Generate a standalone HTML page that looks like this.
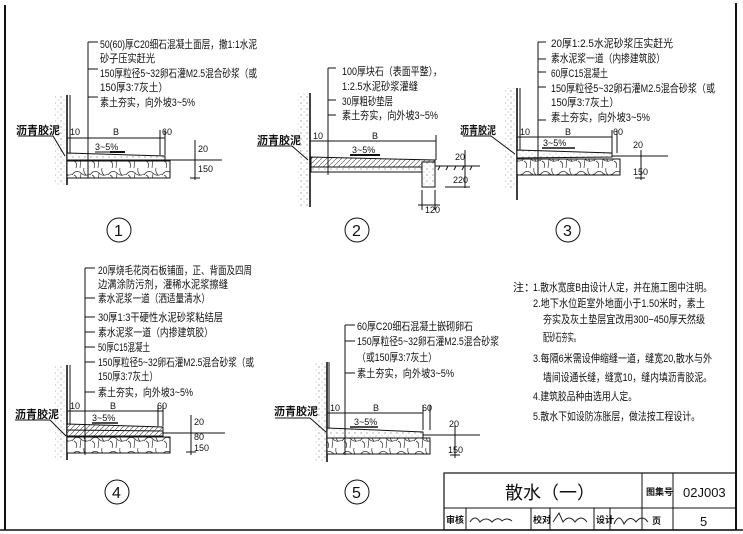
<!DOCTYPE html>
<html><head><meta charset="utf-8"><style>
html,body{margin:0;padding:0;background:#fff;}
svg{display:block;}
text{font-family:"Liberation Sans","Noto Sans CJK SC",sans-serif;fill:#111;}
.t{font-size:11px;}
.s{font-size:9px;}
</style></head><body>
<svg width="743" height="534" viewBox="0 0 743 534" xmlns="http://www.w3.org/2000/svg">
<defs>
<pattern id="dots" width="6" height="6" patternUnits="userSpaceOnUse">
<rect width="6" height="6" fill="#fff"/><circle cx="1" cy="1" r="0.6" fill="#777"/><circle cx="4" cy="4" r="0.5" fill="#999"/>
</pattern>
<pattern id="stone" width="18" height="14" patternUnits="userSpaceOnUse">
<rect width="18" height="14" fill="#fff"/><path d="M0 7 Q4 1 9 5 Q13 9 18 6 M4 14 Q6 9 2 7 M12 0 Q11 4 14 7 M9 5 L8 14" stroke="#333" stroke-width="0.7" fill="none"/>
</pattern>
<pattern id="hatch" width="5" height="5" patternUnits="userSpaceOnUse">
<rect width="5" height="5" fill="#fff"/><path d="M0 5 L5 0" stroke="#444" stroke-width="0.6"/>
</pattern>
</defs>
<g stroke="#111" fill="none">
<line x1="5" y1="5" x2="5" y2="530" stroke-width="2"/>
<line x1="736" y1="3" x2="736" y2="530" stroke-width="2"/>
<line x1="0" y1="530" x2="743" y2="530" stroke-width="1.5"/>
<rect x="444" y="473" width="292" height="57" stroke-width="1.2"/>
<line x1="444" y1="508" x2="736" y2="508"/>
<line x1="642" y1="473" x2="642" y2="530"/>
<line x1="673" y1="473" x2="673" y2="530"/>
<line x1="466" y1="508" x2="466" y2="530"/><line x1="531" y1="508" x2="531" y2="530"/>
<line x1="550" y1="508" x2="550" y2="530"/><line x1="594" y1="508" x2="594" y2="530"/>
<line x1="610" y1="508" x2="610" y2="530"/>
</g>
<text x="505" y="499" style="font-size:18px">散水（一）</text>
<text x="646" y="495" style="font-size:9px;font-weight:bold">图集号</text>
<text x="683" y="497" style="font-size:13px">02J003</text>
<text x="446" y="523" style="font-size:9px;font-weight:bold">审核</text>
<text x="533" y="523" style="font-size:9px;font-weight:bold">校对</text>
<text x="596" y="523" style="font-size:9px;font-weight:bold">设计</text>
<text x="652" y="524" style="font-size:9px;font-weight:bold">页</text>
<text x="700" y="526" style="font-size:13px">5</text>
<path d="M470 522 q5 -8 10 0 q6 -6 12 0 q6 -6 10 -1 q5 -4 10 0 M553 522 l6 -9 l4 9 q6 -8 12 0 q6 -8 12 0 M614 524 q5 -12 10 0 q6 -10 12 -2 q6 -8 12 0" stroke="#222" fill="none" stroke-width="1"/>

<!-- ===== Detail 1 ===== -->
<g stroke="#111" fill="none" stroke-width="1">
<rect x="55" y="95" width="12" height="90" fill="url(#dots)" stroke="none"/>
<line x1="67" y1="95" x2="67" y2="185" stroke-width="1.6"/>
<line x1="70" y1="95" x2="70" y2="154"/>
<polygon points="67,153 165,156 165,160 67,160" fill="url(#dots)"/>
<rect x="67" y="161" width="103" height="17" fill="url(#stone)"/>
<line x1="165" y1="160" x2="222" y2="160"/>
<line x1="88" y1="42" x2="88" y2="178"/>
<line x1="88" y1="42" x2="98" y2="42"/><line x1="88" y1="69" x2="98" y2="69"/><line x1="88" y1="97" x2="98" y2="97"/>
<line x1="67" y1="138" x2="165" y2="138"/><line x1="160" y1="130" x2="160" y2="155"/><line x1="165" y1="130" x2="165" y2="155"/>
<line x1="195" y1="140" x2="195" y2="180"/><line x1="190" y1="160" x2="200" y2="160"/><line x1="190" y1="178" x2="200" y2="178"/>
<line x1="95" y1="152" x2="125" y2="152"/><path d="M110 152 l15 0" stroke-width="2"/>
<path d="M18 136 l35 0 l12 20"/>
<circle cx="119" cy="230" r="12"/>
</g>
<text class="t" x="100" y="48" textLength="157" lengthAdjust="spacingAndGlyphs">50(60)厚C20细石混凝土面层，撒1:1水泥</text>
<text class="t" x="100" y="62" textLength="55" lengthAdjust="spacingAndGlyphs">砂子压实赶光</text>
<text class="t" x="100" y="77" textLength="157" lengthAdjust="spacingAndGlyphs">150厚粒径5~32卵石灌M2.5混合砂浆（或</text>
<text class="t" x="100" y="91" textLength="68" lengthAdjust="spacingAndGlyphs">150厚3:7灰土）</text>
<text class="t" x="100" y="106" textLength="95" lengthAdjust="spacingAndGlyphs">素土夯实，向外坡3~5%</text>
<text class="s" x="70" y="135">10</text><text class="s" x="113" y="135">B</text><text class="s" x="162" y="135">60</text>
<text class="s" x="95" y="150">3~5%</text>
<text class="s" x="198" y="152">20</text><text class="s" x="198" y="172">150</text>
<text class="t" x="16" y="134" style="font-weight:bold" textLength="44" lengthAdjust="spacingAndGlyphs">沥青胶泥</text>
<text x="114" y="236" style="font-size:16px">1</text>

<!-- ===== Detail 2 ===== -->
<g stroke="#111" fill="none" stroke-width="1">
<rect x="298" y="93" width="12" height="114" fill="url(#dots)" stroke="none"/>
<line x1="310" y1="93" x2="310" y2="207" stroke-width="1.6"/>
<polygon points="311,157 435,160 435,167 311,167" fill="url(#hatch)"/>
<rect x="311" y="167" width="111" height="5" fill="url(#dots)"/>
<rect x="422" y="162" width="13" height="25" fill="url(#dots)"/>
<line x1="435" y1="166" x2="480" y2="166"/>
<path d="M440 166 l-2 4 M448 166 l-2 4 M456 166 l-2 4 M464 166 l-2 4 M472 166 l-2 4"/>
<line x1="328" y1="68" x2="328" y2="175"/>
<line x1="328" y1="68" x2="336" y2="68"/><line x1="328" y1="100" x2="336" y2="100"/><line x1="328" y1="115" x2="336" y2="115"/>
<line x1="310" y1="141" x2="436" y2="141"/><line x1="436" y1="135" x2="436" y2="160"/>
<line x1="465" y1="150" x2="465" y2="188"/><line x1="445" y1="187" x2="470" y2="187"/>
<line x1="422" y1="190" x2="422" y2="210"/><line x1="435" y1="190" x2="435" y2="210"/><line x1="418" y1="205" x2="440" y2="205"/>
<line x1="350" y1="155" x2="380" y2="155" stroke-width="2"/>
<path d="M257 146 l35 0 l16 14"/>
<circle cx="357" cy="230" r="12"/>
</g>
<text class="t" x="342" y="75" textLength="100" lengthAdjust="spacingAndGlyphs">100厚块石（表面平整），</text>
<text class="t" x="342" y="90" textLength="76" lengthAdjust="spacingAndGlyphs">1:2.5水泥砂浆灌缝</text>
<text class="t" x="342" y="105" textLength="51" lengthAdjust="spacingAndGlyphs">30厚粗砂垫层</text>
<text class="t" x="342" y="119" textLength="96" lengthAdjust="spacingAndGlyphs">素土夯实，向外坡3~5%</text>
<text class="s" x="313" y="139">10</text><text class="s" x="372" y="139">B</text>
<text class="s" x="352" y="153">3~5%</text>
<text class="s" x="455" y="160">20</text><text class="s" x="453" y="183">220</text><text class="s" x="425" y="213">120</text>
<text class="t" x="257" y="144" style="font-weight:bold" textLength="44" lengthAdjust="spacingAndGlyphs">沥青胶泥</text>
<text x="352" y="236" style="font-size:16px">2</text>

<!-- ===== Detail 3 ===== -->
<g stroke="#111" fill="none" stroke-width="1">
<rect x="505" y="88" width="12" height="100" fill="url(#dots)" stroke="none"/>
<line x1="517" y1="88" x2="517" y2="200" stroke-width="1.6"/>
<line x1="520" y1="88" x2="520" y2="150"/>
<polygon points="517,150 612,153 612,157 517,158" fill="url(#dots)"/>
<rect x="517" y="159" width="103" height="16" fill="url(#stone)"/>
<line x1="612" y1="156" x2="668" y2="156"/>
<line x1="538" y1="42" x2="538" y2="175"/>
<line x1="538" y1="42" x2="546" y2="42"/><line x1="538" y1="59" x2="546" y2="59"/><line x1="538" y1="72" x2="546" y2="72"/><line x1="538" y1="87" x2="546" y2="87"/><line x1="538" y1="120" x2="546" y2="120"/>
<line x1="517" y1="137" x2="612" y2="137"/><line x1="612" y1="130" x2="612" y2="153"/><line x1="617" y1="130" x2="617" y2="153"/>
<line x1="641" y1="150" x2="641" y2="180"/><line x1="635" y1="178" x2="645" y2="178"/>
<line x1="542" y1="148" x2="575" y2="148" stroke-width="1.5"/>
<path d="M463 136 l28 0 l24 18"/>
<circle cx="568" cy="230" r="12"/>
</g>
<text class="t" x="551" y="47" textLength="122" lengthAdjust="spacingAndGlyphs">20厚1:2.5水泥砂浆压实赶光</text>
<text class="t" x="551" y="62" textLength="114" lengthAdjust="spacingAndGlyphs">素水泥浆一道（内掺建筑胶）</text>
<text class="t" x="551" y="77" textLength="57" lengthAdjust="spacingAndGlyphs">60厚C15混凝土</text>
<text class="t" x="551" y="92" textLength="164" lengthAdjust="spacingAndGlyphs">150厚粒径5~32卵石灌M2.5混合砂浆（或</text>
<text class="t" x="551" y="106" textLength="68" lengthAdjust="spacingAndGlyphs">150厚3:7灰土）</text>
<text class="t" x="551" y="121" textLength="99" lengthAdjust="spacingAndGlyphs">素土夯实，向外坡3~5%</text>
<text class="s" x="520" y="135">10</text><text class="s" x="565" y="135">B</text><text class="s" x="613" y="135">60</text>
<text class="s" x="543" y="146">3~5%</text>
<text class="s" x="633" y="148">20</text><text class="s" x="633" y="175">150</text>
<text class="t" x="460" y="134" style="font-weight:bold" textLength="36" lengthAdjust="spacingAndGlyphs">沥青胶泥</text>
<text x="563" y="236" style="font-size:16px">3</text>

<!-- ===== Detail 4 ===== -->
<g stroke="#111" fill="none" stroke-width="1">
<rect x="55" y="365" width="12" height="95" fill="url(#dots)" stroke="none"/>
<line x1="67" y1="365" x2="67" y2="460" stroke-width="1.6"/>
<line x1="70" y1="365" x2="70" y2="425"/>
<polygon points="67,424 163,427 163,436 67,436" fill="url(#hatch)"/>
<line x1="67" y1="430" x2="163" y2="431"/>
<rect x="67" y="437" width="103" height="16" fill="url(#stone)"/>
<line x1="163" y1="433" x2="225" y2="433"/>
<line x1="85" y1="268" x2="85" y2="455"/>
<line x1="85" y1="268" x2="95" y2="268"/><line x1="85" y1="298" x2="95" y2="298"/><line x1="85" y1="317" x2="95" y2="317"/><line x1="85" y1="332" x2="95" y2="332"/><line x1="85" y1="347" x2="95" y2="347"/><line x1="85" y1="362" x2="95" y2="362"/><line x1="85" y1="392" x2="95" y2="392"/>
<line x1="67" y1="411" x2="163" y2="411"/><line x1="158" y1="405" x2="158" y2="426"/><line x1="163" y1="405" x2="163" y2="426"/>
<line x1="191" y1="415" x2="191" y2="455"/><line x1="186" y1="452" x2="196" y2="452"/>
<line x1="92" y1="423" x2="118" y2="423" stroke-width="1.5"/>
<path d="M15 420 l35 0 l16 16"/>
<circle cx="117" cy="492" r="12"/>
</g>
<text class="t" x="98" y="274" textLength="154" lengthAdjust="spacingAndGlyphs">20厚烧毛花岗石板铺面，正、背面及四周</text>
<text class="t" x="98" y="288" textLength="130" lengthAdjust="spacingAndGlyphs">边满涂防污剂，灌稀水泥浆擦缝</text>
<text class="t" x="98" y="302" textLength="112" lengthAdjust="spacingAndGlyphs">素水泥浆一道（洒适量清水）</text>
<text class="t" x="98" y="321" textLength="125" lengthAdjust="spacingAndGlyphs">30厚1:3干硬性水泥砂浆粘结层</text>
<text class="t" x="98" y="336" textLength="115" lengthAdjust="spacingAndGlyphs">素水泥浆一道（内掺建筑胶）</text>
<text class="t" x="98" y="351" textLength="52" lengthAdjust="spacingAndGlyphs">50厚C15混凝土</text>
<text class="t" x="98" y="366" textLength="156" lengthAdjust="spacingAndGlyphs">150厚粒径5~32卵石灌M2.5混合砂浆（或</text>
<text class="t" x="98" y="380" textLength="60" lengthAdjust="spacingAndGlyphs">150厚3:7灰土）</text>
<text class="t" x="98" y="396" textLength="95" lengthAdjust="spacingAndGlyphs">素土夯实，向外坡3~5%</text>
<text class="s" x="70" y="409">10</text><text class="s" x="110" y="409">B</text><text class="s" x="157" y="409">60</text>
<text class="s" x="92" y="421">3~5%</text>
<text class="s" x="194" y="425">20</text><text class="s" x="194" y="440">80</text><text class="s" x="194" y="451">150</text>
<text class="t" x="15" y="418" style="font-weight:bold" textLength="44" lengthAdjust="spacingAndGlyphs">沥青胶泥</text>
<text x="112" y="498" style="font-size:16px">4</text>

<!-- ===== Detail 5 ===== -->
<g stroke="#111" fill="none" stroke-width="1">
<rect x="315" y="362" width="12" height="100" fill="url(#dots)" stroke="none"/>
<line x1="327" y1="362" x2="327" y2="462" stroke-width="1.6"/>
<line x1="329" y1="362" x2="329" y2="428"/>
<polygon points="327,428 423,432 423,438 327,438" fill="url(#dots)"/>
<rect x="327" y="438" width="103" height="16" fill="url(#stone)"/>
<line x1="423" y1="435" x2="480" y2="435"/>
<line x1="345" y1="325" x2="345" y2="455"/>
<line x1="345" y1="325" x2="355" y2="325"/><line x1="345" y1="341" x2="355" y2="341"/><line x1="345" y1="373" x2="355" y2="373"/>
<line x1="327" y1="413" x2="423" y2="413"/><line x1="423" y1="405" x2="423" y2="430"/><line x1="430" y1="405" x2="430" y2="430"/>
<line x1="455" y1="425" x2="455" y2="458"/><line x1="450" y1="455" x2="460" y2="455"/>
<line x1="350" y1="427" x2="378" y2="427" stroke-width="1.5"/>
<path d="M275 418 l35 0 l16 14"/>
<circle cx="357" cy="492" r="12"/>
</g>
<text class="t" x="357" y="330" textLength="116" lengthAdjust="spacingAndGlyphs">60厚C20细石混凝土嵌砌卵石</text>
<text class="t" x="357" y="345" textLength="142" lengthAdjust="spacingAndGlyphs">150厚粒径5~32卵石灌M2.5混合砂浆</text>
<text class="t" x="357" y="361" textLength="80" lengthAdjust="spacingAndGlyphs">（或150厚3:7灰土）</text>
<text class="t" x="357" y="377" textLength="97" lengthAdjust="spacingAndGlyphs">素土夯实，向外坡3~5%</text>
<text class="s" x="330" y="411">10</text><text class="s" x="373" y="411">B</text><text class="s" x="422" y="411">60</text>
<text class="s" x="354" y="425">3~5%</text>
<text class="s" x="449" y="427">20</text><text class="s" x="448" y="453">150</text>
<text class="t" x="274" y="415" style="font-weight:bold" textLength="44" lengthAdjust="spacingAndGlyphs">沥青胶泥</text>
<text x="352" y="498" style="font-size:16px">5</text>

<!-- ===== Notes ===== -->
<text class="t" x="513" y="291">注：</text>
<text class="t" x="533" y="291" textLength="179" lengthAdjust="spacingAndGlyphs">1.散水宽度B由设计人定，并在施工图中注明。</text>
<text class="t" x="533" y="307" textLength="172" lengthAdjust="spacingAndGlyphs">2.地下水位距室外地面小于1.50米时，素土</text>
<text class="t" x="543" y="323" textLength="162" lengthAdjust="spacingAndGlyphs">夯实及灰土垫层宜改用300−450厚天然级</text>
<text class="t" x="543" y="341" textLength="37" lengthAdjust="spacingAndGlyphs">配砂石夯实。</text>
<text class="t" x="533" y="362" textLength="179" lengthAdjust="spacingAndGlyphs">3.每隔6米需设伸缩缝一道，缝宽20,散水与外</text>
<text class="t" x="543" y="381" textLength="169" lengthAdjust="spacingAndGlyphs">墙间设通长缝，缝宽10，缝内填沥青胶泥。</text>
<text class="t" x="533" y="400" textLength="104" lengthAdjust="spacingAndGlyphs">4.建筑胶品种由选用人定。</text>
<text class="t" x="533" y="420" textLength="167" lengthAdjust="spacingAndGlyphs">5.散水下如设防冻胀层，做法按工程设计。</text>
</svg>
</body></html>
